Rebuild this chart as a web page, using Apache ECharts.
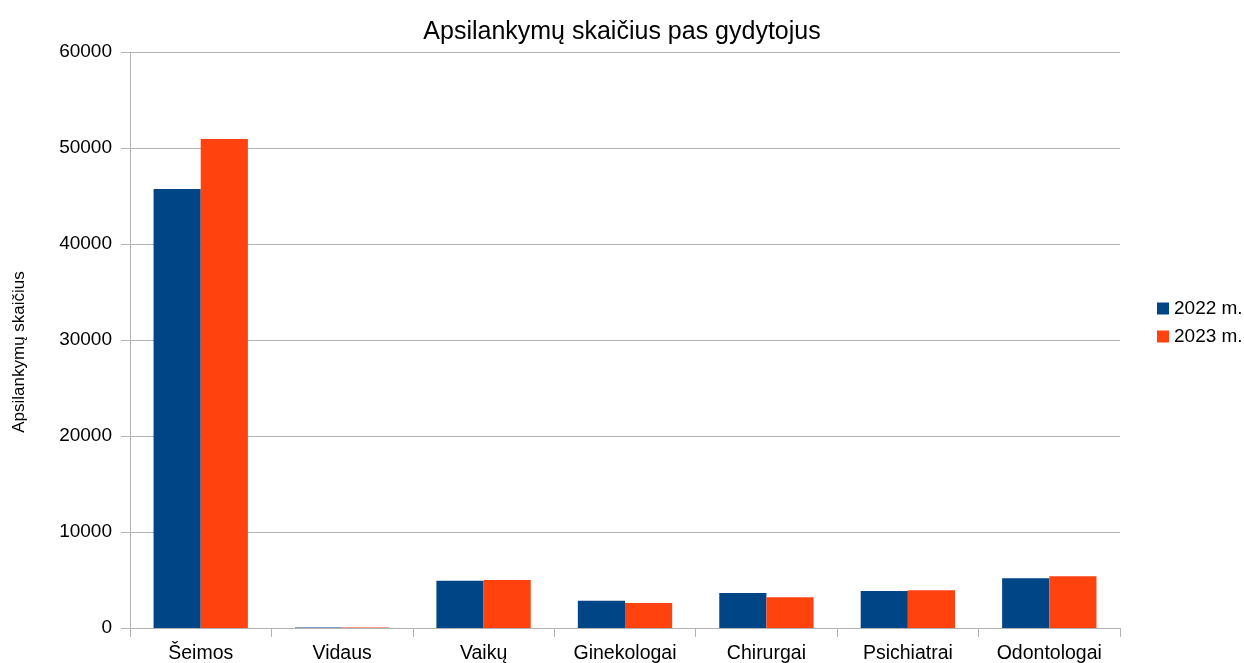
<!DOCTYPE html>
<html><head><meta charset="utf-8">
<script src="https://cdn.jsdelivr.net/npm/echarts@6/dist/echarts.min.js"></script>
<style>html,body{margin:0;padding:0;background:#fff}#c{width:1244px;height:663px}</style>
</head><body><div id="c"></div>
<script>
const categories = ['Šeimos','Vidaus','Vaikų','Ginekologai','Chirurgai','Psichiatrai','Odontologai'];
const values2022 = [45730, 40, 4930, 2850, 3650, 3850, 5180];
const values2023 = [50940, 40, 5000, 2600, 3200, 3920, 5390];
const seriesNames = ['2022 m.', '2023 m.'];
const chart = echarts.init(document.getElementById('c'));
const font = 'Liberation Sans';
chart.setOption({
  animation: false,
  title: {text: 'Apsilankymų skaičius pas gydytojus', left: 'center', top: 15,
    textStyle: {fontFamily: font, fontSize: 25, fontWeight: 'normal', color: '#000'}},
  legend: {orient: 'vertical', left: 1152, top: 294, itemWidth: 12, itemHeight: 12, itemGap: 9,
    icon: 'rect', textStyle: {fontFamily: font, fontSize: 19, color: '#000'},
    data: seriesNames},
  grid: {left: 130, right: 124, top: 52, bottom: 35, containLabel: false, outerBoundsMode: 'none'},
  xAxis: {type: 'category', data: categories,
    axisLine: {lineStyle: {color: '#b3b3b3'}},
    axisTick: {show: true, length: 9, lineStyle: {color: '#b3b3b3'}},
    axisLabel: {fontFamily: font, fontSize: 19.5, color: '#000', margin: 16}},
  yAxis: {type: 'value', min: 0, max: 60000, interval: 10000,
    name: 'Apsilankymų skaičius', nameLocation: 'middle', nameGap: 102, nameRotate: 90,
    nameTextStyle: {fontFamily: font, fontSize: 17, color: '#000', padding: [0, 24, 0, 0]},
    axisLine: {show: true, lineStyle: {color: '#b3b3b3'}},
    axisTick: {show: true, length: 9, lineStyle: {color: '#b3b3b3'}},
    splitLine: {lineStyle: {color: '#b3b3b3'}},
    axisLabel: {fontFamily: font, fontSize: 19, color: '#000', margin: 18, formatter: v => String(v)}},
  series: [
    {name: seriesNames[0], type: 'bar', data: values2022, barGap: '0%', barCategoryGap: '33.3%',
     itemStyle: {color: '#004586'}},
    {name: seriesNames[1], type: 'bar', data: values2023, barGap: '0%', barCategoryGap: '33.3%',
     itemStyle: {color: '#ff420e'}}
  ]
});
</script></body></html>
